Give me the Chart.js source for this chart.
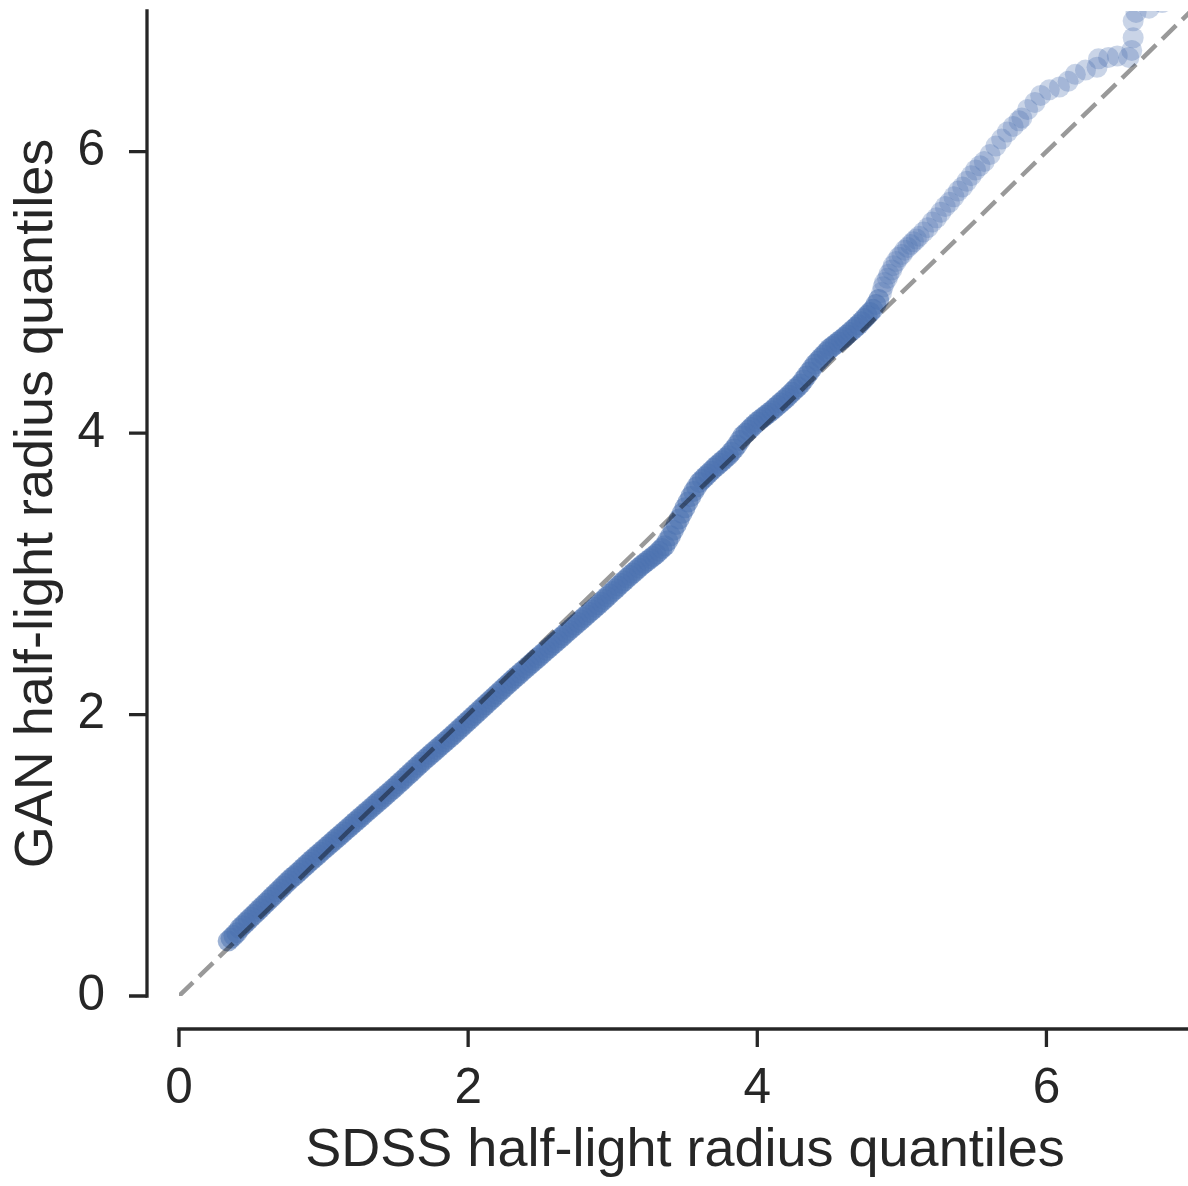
<!DOCTYPE html>
<html>
<head>
<meta charset="utf-8">
<title>GAN vs SDSS half-light radius Q-Q plot</title>
<script src="https://cdn.jsdelivr.net/npm/chart.js@4.4.1/dist/chart.umd.min.js"></script>
<style>
  html, body { margin: 0; padding: 0; background: #ffffff; overflow: hidden; }
  #wrap { width: 1191px; height: 1186px; }
</style>
</head>
<body>
<div id="wrap"><canvas id="qq" width="1191" height="1186"></canvas></div>
<script>
// Quantiles of the half-light radius: SDSS (x) against GAN samples (y).
// Central part of the distribution, where quantiles are closely packed.
const bodyX = [
  0.34,0.36,0.38,0.40,0.42,0.44,0.46,0.48,0.50,0.52,
  0.54,0.56,0.58,0.60,0.62,0.64,0.66,0.68,0.70,0.72,
  0.74,0.76,0.78,0.80,0.82,0.84,0.86,0.88,0.90,0.92,
  0.94,0.96,0.98,1.00,1.02,1.04,1.06,1.08,1.10,1.12,
  1.14,1.16,1.18,1.20,1.22,1.24,1.26,1.28,1.30,1.32,
  1.34,1.36,1.38,1.40,1.42,1.44,1.46,1.48,1.50,1.52,
  1.54,1.56,1.58,1.60,1.62,1.64,1.66,1.68,1.70,1.72,
  1.74,1.76,1.78,1.80,1.82,1.84,1.86,1.88,1.90,1.92,
  1.94,1.96,1.98,2.00,2.02,2.04,2.06,2.08,2.10,2.12,
  2.14,2.16,2.18,2.20,2.22,2.24,2.26,2.28,2.30,2.32,
  2.34,2.36,2.38,2.40,2.42,2.44,2.46,2.48,2.50,2.52,
  2.54,2.56,2.58,2.60,2.62,2.64,2.66,2.68,2.70,2.72,
  2.74,2.76,2.78,2.80,2.82,2.84,2.86,2.88,2.90,2.92,
  2.94,2.96,2.98,3.00,3.02,3.04,3.06,3.08,3.10,3.12,
  3.14,3.16,3.18,3.20,3.22,3.24,3.26,3.28,3.30,3.32,
  3.34,3.36,3.38,3.40,3.42,3.44,3.46,3.48,3.50,3.52,
  3.54,3.56,3.58,3.60,3.62,3.64,3.66,3.68,3.70,3.72,
  3.74,3.76,3.78,3.80,3.82,3.84,3.86,3.88,3.90,3.92,
  3.94,3.96,3.98,4.00,4.02,4.04,4.06,4.08,4.10,4.12,
  4.14,4.16,4.18,4.20,4.22,4.24,4.26,4.28,4.30,4.32,
  4.34,4.36,4.38,4.40,4.42,4.44,4.46,4.48,4.50,4.52,
  4.54,4.56,4.58,4.60,4.62,4.64,4.66,4.68,4.70,4.72,
  4.74,4.76,4.78,4.80,4.82,4.84
];
const bodyY = [
  0.39,0.41,0.43,0.45,0.48,0.50,0.52,0.54,0.56,0.58,
  0.60,0.62,0.64,0.66,0.68,0.70,0.72,0.74,0.76,0.78,
  0.80,0.82,0.84,0.855,0.875,0.893,0.912,0.931,0.95,0.968,
  0.986,1.004,1.022,1.04,1.058,1.076,1.094,1.112,1.13,1.148,
  1.166,1.184,1.202,1.22,1.238,1.256,1.274,1.292,1.31,1.328,
  1.346,1.364,1.382,1.40,1.418,1.436,1.454,1.472,1.49,1.509,
  1.528,1.547,1.566,1.585,1.604,1.623,1.642,1.661,1.68,1.698,
  1.716,1.734,1.752,1.77,1.788,1.806,1.824,1.842,1.86,1.879,
  1.898,1.917,1.936,1.955,1.974,1.993,2.012,2.031,2.05,2.069,
  2.088,2.107,2.126,2.145,2.164,2.183,2.202,2.221,2.24,2.258,
  2.276,2.294,2.312,2.33,2.348,2.366,2.384,2.402,2.42,2.438,
  2.456,2.474,2.492,2.51,2.528,2.546,2.564,2.582,2.60,2.618,
  2.636,2.654,2.672,2.69,2.708,2.726,2.744,2.762,2.78,2.799,
  2.818,2.837,2.856,2.875,2.894,2.913,2.932,2.951,2.97,2.988,
  3.006,3.024,3.042,3.06,3.076,3.092,3.108,3.124,3.14,3.16,
  3.18,3.20,3.235,3.27,3.31,3.35,3.39,3.43,3.47,3.51,
  3.55,3.586,3.618,3.65,3.67,3.69,3.71,3.73,3.75,3.768,
  3.786,3.804,3.822,3.84,3.864,3.888,3.916,3.948,3.98,4.00,
  4.02,4.04,4.06,4.08,4.096,4.112,4.128,4.144,4.16,4.178,
  4.196,4.214,4.232,4.25,4.27,4.29,4.31,4.33,4.35,4.378,
  4.406,4.434,4.462,4.49,4.512,4.534,4.556,4.578,4.60,4.616,
  4.632,4.648,4.664,4.68,4.698,4.716,4.734,4.752,4.77,4.792,
  4.814,4.836,4.858,4.88,4.915,4.95
];

// Upper tail, where the quantiles spread out.
const tailX = [
  4.86,4.87,4.88,4.90,4.91,4.93,4.94,4.96,4.98,5.00,
  5.02,5.04,5.06,5.08,5.10,5.12,5.15,5.18,5.21,5.24,
  5.27,5.30,5.33,5.36,5.39,5.42,5.45,5.48,5.51,5.54,
  5.57,5.61,5.65,5.69,5.73,5.77,5.81,5.83,5.87,5.92,
  5.96,6.02,6.09,6.15,6.20,6.27,6.35,6.36,6.43,6.49,
  6.57,6.59,6.60,6.60,6.62,6.71,6.80
];
const tailY = [
  5.00,5.04,5.07,5.10,5.13,5.16,5.19,5.22,5.25,5.27,
  5.30,5.32,5.34,5.36,5.38,5.40,5.43,5.46,5.50,5.53,
  5.57,5.61,5.64,5.68,5.72,5.75,5.79,5.83,5.87,5.90,
  5.93,5.98,6.04,6.09,6.14,6.18,6.22,6.24,6.30,6.35,
  6.40,6.44,6.46,6.50,6.55,6.58,6.60,6.66,6.67,6.68,
  6.67,6.72,6.81,6.93,6.99,7.02,7.06
];

// Identity line y = x and axis settings.
const diagonal = [0, 7];
const axisMin = 0;
const axisMax = 7;
const tickValues = [0, 2, 4, 6];
const xTitle = 'SDSS half-light radius quantiles';
const yTitle = 'GAN half-light radius quantiles';

const toPoints = (xs, ys) => xs.map((x, i) => ({ x: x, y: ys[i] }));

const INK = '#262626';
const FONT = "'Liberation Sans', Arial, Helvetica, sans-serif";
const SPINE_OFFSET_X = 33;   // gap between plot area and bottom spine
const SPINE_OFFSET_Y = 32;   // gap between plot area and left spine
const TICK_LEN = 18;
const SPINE_W = 3.3;

// Draws offset spines and outward tick marks from the scales' own pixel mapping.
const offsetSpines = {
  id: 'offsetSpines',
  afterDraw(chart) {
    const { ctx, chartArea, scales } = chart;
    const xs = scales.x, ys = scales.y;
    const sx = chartArea.left - SPINE_OFFSET_Y;
    const sy = chartArea.bottom + SPINE_OFFSET_X;
    ctx.save();
    ctx.strokeStyle = INK;
    ctx.lineWidth = SPINE_W;
    ctx.lineCap = 'butt';
    // left spine
    ctx.beginPath();
    ctx.moveTo(sx, ys.getPixelForValue(axisMin) + SPINE_W / 2);
    ctx.lineTo(sx, ys.getPixelForValue(axisMax) - SPINE_W / 2);
    ctx.stroke();
    // bottom spine
    ctx.beginPath();
    ctx.moveTo(xs.getPixelForValue(axisMin) - SPINE_W / 2, sy);
    ctx.lineTo(xs.getPixelForValue(axisMax) + SPINE_W / 2, sy);
    ctx.stroke();
    // tick marks
    ctx.beginPath();
    tickValues.forEach(v => {
      const py = ys.getPixelForValue(v);
      ctx.moveTo(sx, py);
      ctx.lineTo(sx - TICK_LEN, py);
      const px = xs.getPixelForValue(v);
      ctx.moveTo(px, sy);
      ctx.lineTo(px, sy + TICK_LEN);
    });
    ctx.stroke();
    ctx.restore();
  }
};

const fixedTicks = scale => { scale.ticks = tickValues.map(v => ({ value: v })); };
const noEdgePadding = scale => {
  scale.paddingTop = 0; scale.paddingBottom = 0;
  scale.paddingLeft = 0; scale.paddingRight = 0;
};

new Chart(document.getElementById('qq'), {
  type: 'scatter',
  data: {
    datasets: [
      {
        type: 'line',
        label: 'y = x',
        data: toPoints(diagonal, diagonal),
        borderColor: 'rgba(0,0,0,0.4)',
        borderWidth: 4.5,
        borderDash: [19.5, 8.5],
        borderCapStyle: 'butt',
        pointRadius: 0,
        fill: false,
        tension: 0,
        clip: 0,
        order: 0
      },
      {
        label: 'quantiles (tail)',
        data: toPoints(tailX, tailY),
        backgroundColor: 'rgba(76,114,176,0.3)',
        borderWidth: 0,
        pointRadius: 10.5,
        pointHoverRadius: 10.5,
        clip: 0,
        order: 1
      },
      {
        label: 'quantiles',
        data: toPoints(bodyX, bodyY),
        backgroundColor: 'rgba(76,114,176,0.55)',
        borderWidth: 0,
        pointRadius: 10.5,
        pointHoverRadius: 10.5,
        clip: 0,
        order: 2
      }
    ]
  },
  options: {
    responsive: false,
    animation: false,
    devicePixelRatio: 1,
    layout: { autoPadding: false, padding: { top: 11, right: 0, bottom: 0, left: 0 } },
    plugins: {
      legend: { display: false },
      tooltip: { enabled: false }
    },
    events: [],
    scales: {
      x: {
        type: 'linear',
        min: axisMin,
        max: axisMax,
        grid: { display: false, drawTicks: false },
        border: { display: false },
        afterBuildTicks: fixedTicks,
        afterFit: s => { s.height = 190; noEdgePadding(s); },
        ticks: {
          padding: 64,
          color: INK,
          font: { family: FONT, size: 49.5 },
          maxRotation: 0,
          autoSkip: false
        },
        title: {
          display: true,
          text: xTitle,
          color: INK,
          font: { family: FONT, size: 54 },
          padding: { top: 0, bottom: 2.3 }
        }
      },
      y: {
        type: 'linear',
        min: axisMin,
        max: axisMax,
        grid: { display: false, drawTicks: false },
        border: { display: false },
        afterBuildTicks: fixedTicks,
        afterFit: s => { s.width = 179; noEdgePadding(s); },
        ticks: {
          padding: 74,
          color: INK,
          font: { family: FONT, size: 49.5 },
          autoSkip: false
        },
        title: {
          display: true,
          text: yTitle,
          color: INK,
          font: { family: FONT, size: 54 },
          padding: { top: 4.3, bottom: 0 }
        }
      }
    }
  },
  plugins: [offsetSpines]
});
</script>
</body>
</html>
